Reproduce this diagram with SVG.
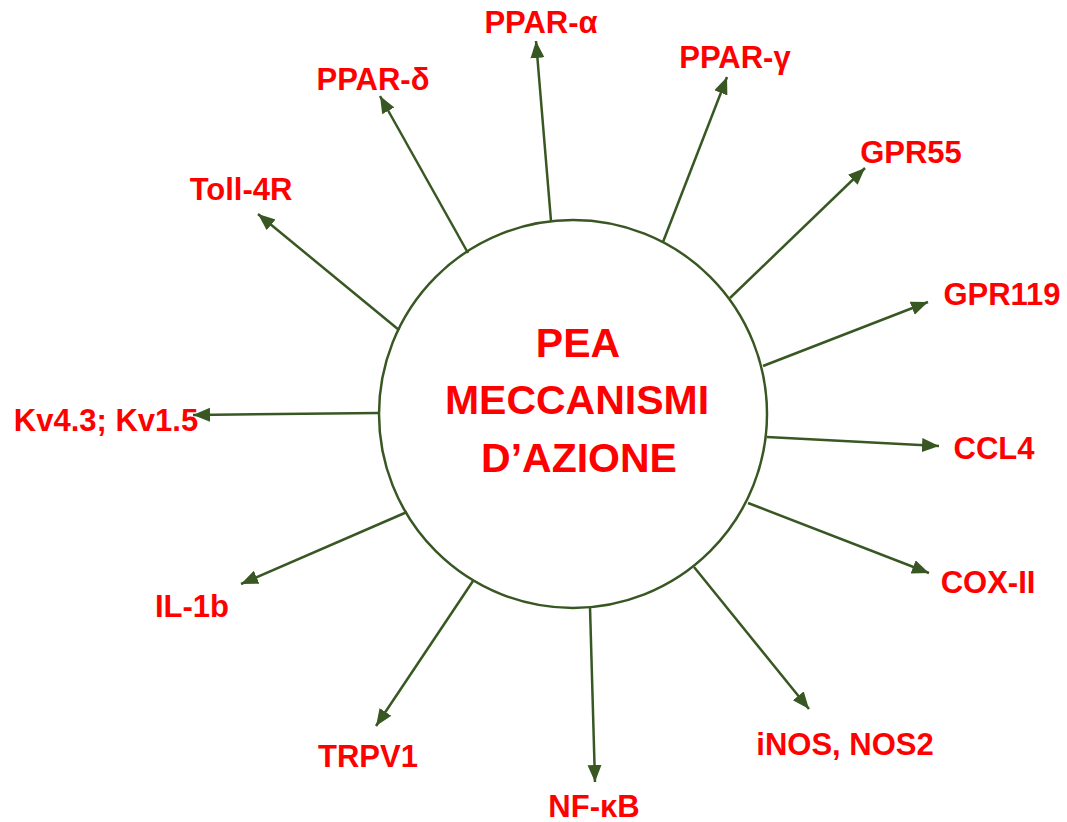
<svg xmlns="http://www.w3.org/2000/svg" width="1067" height="822" viewBox="0 0 1067 822">
<style>
  .lbl { font-family: "Liberation Sans", Arial, sans-serif; font-weight: bold; font-size: 31px; fill: #FF0000; text-anchor: middle; }
  .ctr { font-family: "Liberation Sans", Arial, sans-serif; font-weight: bold; font-size: 41px; fill: #FF0000; text-anchor: middle; }
  .conn { stroke: #385723; stroke-width: 2.5; fill: none; marker-end: url(#arrow); }
</style>
<defs>
  <marker id="arrow" markerUnits="userSpaceOnUse" markerWidth="18" markerHeight="16" refX="17" refY="7" orient="auto">
    <path d="M0,0 L17,7 L0,14 z" fill="#385723"/>
  </marker>
</defs>
<rect width="1067" height="822" fill="#FFFFFF"/>
<g id="center">
  <circle cx="573" cy="414" r="194" fill="#FFFFFF" stroke="#385723" stroke-width="2.5"/>
  <text class="ctr" x="578" y="357">PEA</text>
  <text class="ctr" x="577" y="414">MECCANISMI</text>
  <text class="ctr" x="579" y="472">D’AZIONE</text>
</g>
<g id="connectors">
  <line class="conn" x1="551" y1="221" x2="536" y2="41"/>
  <line class="conn" x1="663" y1="242" x2="727" y2="77"/>
  <line class="conn" x1="468" y1="253" x2="380" y2="96"/>
  <line class="conn" x1="399" y1="330" x2="258" y2="214"/>
  <line class="conn" x1="730" y1="298" x2="865" y2="168"/>
  <line class="conn" x1="763" y1="366" x2="928" y2="302"/>
  <line class="conn" x1="767" y1="437" x2="939" y2="446"/>
  <line class="conn" x1="748" y1="503" x2="929" y2="573"/>
  <line class="conn" x1="694" y1="567" x2="809" y2="709"/>
  <line class="conn" x1="590" y1="607" x2="595" y2="782"/>
  <line class="conn" x1="473" y1="581" x2="376" y2="726"/>
  <line class="conn" x1="407" y1="512" x2="241" y2="584"/>
  <line class="conn" x1="379" y1="413" x2="193" y2="415"/>
</g>
<g id="n-ppar-alpha"><text class="lbl" x="541" y="33">PPAR-α</text></g>
<g id="n-ppar-gamma"><text class="lbl" x="735" y="68">PPAR-γ</text></g>
<g id="n-ppar-delta"><text class="lbl" x="373" y="90">PPAR-δ</text></g>
<g id="n-toll4r"><text class="lbl" x="241" y="200">Toll-4R</text></g>
<g id="n-gpr55"><text class="lbl" x="911" y="163">GPR55</text></g>
<g id="n-gpr119"><text class="lbl" x="1002" y="305">GPR119</text></g>
<g id="n-ccl4"><text class="lbl" x="994" y="459">CCL4</text></g>
<g id="n-cox2"><text class="lbl" x="988" y="593">COX-II</text></g>
<g id="n-inos"><text class="lbl" x="845" y="755">iNOS, NOS2</text></g>
<g id="n-nfkb"><text class="lbl" x="594" y="817">NF-κB</text></g>
<g id="n-trpv1"><text class="lbl" x="368" y="767">TRPV1</text></g>
<g id="n-il1b"><text class="lbl" x="192" y="617">IL-1b</text></g>
<g id="n-kv"><text class="lbl" x="106" y="431">Kv4.3; Kv1.5</text></g>
</svg>
